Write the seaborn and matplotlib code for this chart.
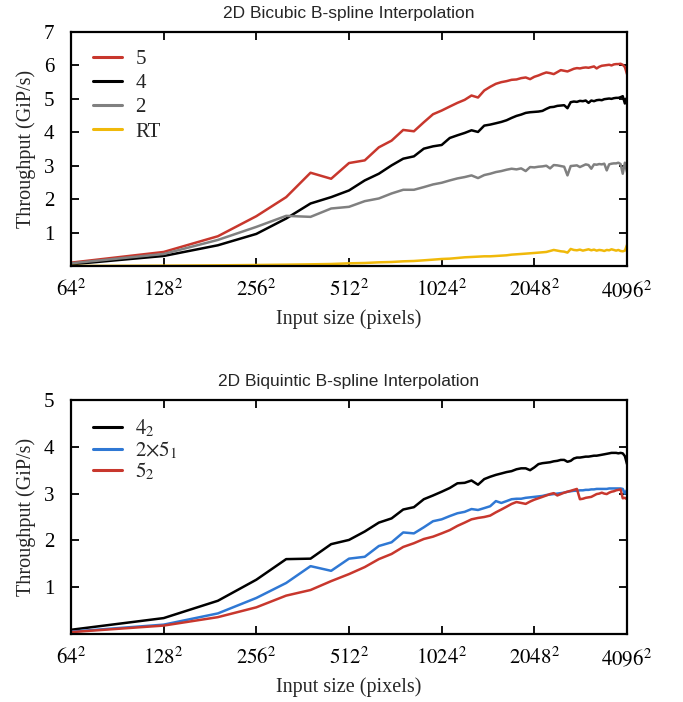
import matplotlib
matplotlib.use("Agg")
import matplotlib.pyplot as plt
import seaborn as sns
import pandas as pd
from matplotlib.ticker import NullLocator, FixedLocator

# ---------------- data ----------------
sizes = [64, 128, 192, 256, 320, 384, 448, 512, 576, 640, 704, 768, 832, 896, 960, 1024,
         1088, 1152, 1216, 1280, 1344, 1408, 1472, 1536, 1600, 1664, 1728, 1792, 1856, 1920, 1984, 2048,
         2112, 2176, 2240, 2304, 2368, 2432, 2496, 2560, 2624, 2688, 2752, 2816, 2880, 2944, 3008, 3072,
         3136, 3200, 3264, 3328, 3392, 3456, 3520, 3584, 3648, 3712, 3776, 3840, 3904, 3968, 4032, 4096]

cubic_5 = [0.10, 0.42, 0.89, 1.49, 2.06, 2.79, 2.61, 3.08, 3.16, 3.55, 3.75, 4.07, 4.03, 4.30, 4.54, 4.65,
           4.77, 4.88, 4.97, 5.10, 5.04, 5.25, 5.36, 5.45, 5.50, 5.53, 5.57, 5.58, 5.62, 5.64, 5.59, 5.66,
           5.70, 5.75, 5.79, 5.77, 5.74, 5.80, 5.86, 5.84, 5.82, 5.86, 5.90, 5.92, 5.91, 5.93, 5.94, 5.93,
           5.95, 5.97, 5.91, 5.96, 5.99, 6.00, 6.01, 6.02, 6.00, 6.03, 6.04, 6.04, 6.05, 6.02, 5.95, 5.74]
cubic_4 = [0.05, 0.30, 0.62, 0.96, 1.42, 1.87, 2.06, 2.26, 2.56, 2.76, 3.01, 3.21, 3.28, 3.51, 3.58, 3.62,
           3.83, 3.91, 3.98, 4.06, 4.01, 4.20, 4.23, 4.27, 4.31, 4.36, 4.43, 4.49, 4.53, 4.58, 4.60, 4.61,
           4.62, 4.64, 4.70, 4.75, 4.76, 4.79, 4.80, 4.81, 4.72, 4.90, 4.92, 4.91, 4.94, 4.93, 4.95, 4.88,
           4.95, 4.93, 4.96, 4.97, 4.96, 4.99, 5.00, 5.01, 5.00, 5.02, 5.03, 5.03, 5.05, 5.08, 4.86, 5.04]
cubic_2 = [0.08, 0.36, 0.78, 1.17, 1.50, 1.47, 1.72, 1.77, 1.94, 2.02, 2.17, 2.28, 2.28, 2.36, 2.44, 2.49,
           2.56, 2.62, 2.66, 2.71, 2.63, 2.72, 2.76, 2.81, 2.84, 2.88, 2.91, 2.89, 2.92, 2.84, 2.96, 2.95,
           2.97, 2.98, 3.00, 2.92, 3.02, 3.01, 2.99, 2.97, 2.71, 2.99, 3.00, 3.01, 2.96, 3.00, 3.04, 3.02,
           2.91, 3.04, 3.03, 3.05, 3.04, 3.06, 2.86, 3.04, 3.06, 3.07, 3.07, 3.09, 3.05, 2.76, 3.09, 2.81]
cubic_rt = [0.00, 0.01, 0.02, 0.03, 0.04, 0.05, 0.06, 0.08, 0.09, 0.11, 0.12, 0.14, 0.15, 0.17, 0.19, 0.21,
            0.22, 0.24, 0.26, 0.27, 0.28, 0.29, 0.29, 0.30, 0.31, 0.32, 0.34, 0.35, 0.36, 0.37, 0.38, 0.39,
            0.40, 0.41, 0.42, 0.45, 0.48, 0.46, 0.44, 0.43, 0.40, 0.51, 0.48, 0.47, 0.49, 0.46, 0.48, 0.50,
            0.47, 0.49, 0.46, 0.48, 0.47, 0.45, 0.48, 0.47, 0.50, 0.48, 0.46, 0.48, 0.45, 0.44, 0.46, 0.63]

quint_42 = [0.09, 0.34, 0.71, 1.16, 1.60, 1.61, 1.92, 2.01, 2.19, 2.38, 2.47, 2.66, 2.71, 2.88, 2.96, 3.04,
            3.12, 3.22, 3.23, 3.28, 3.19, 3.31, 3.36, 3.40, 3.43, 3.46, 3.48, 3.52, 3.54, 3.54, 3.50, 3.56,
            3.63, 3.65, 3.66, 3.67, 3.69, 3.70, 3.72, 3.72, 3.68, 3.70, 3.75, 3.77, 3.77, 3.78, 3.79, 3.79,
            3.80, 3.81, 3.81, 3.82, 3.83, 3.84, 3.85, 3.86, 3.87, 3.87, 3.87, 3.86, 3.87, 3.86, 3.80, 3.63]
quint_2x51 = [0.05, 0.20, 0.44, 0.77, 1.09, 1.45, 1.35, 1.61, 1.65, 1.88, 1.96, 2.17, 2.15, 2.28, 2.41, 2.45,
              2.52, 2.58, 2.61, 2.67, 2.65, 2.69, 2.73, 2.84, 2.80, 2.84, 2.88, 2.89, 2.89, 2.91, 2.92, 2.93,
              2.94, 2.95, 2.97, 2.98, 2.99, 3.00, 3.01, 3.02, 3.04, 3.05, 3.06, 3.06, 3.07, 3.07, 3.08, 3.08,
              3.09, 3.09, 3.10, 3.10, 3.10, 3.10, 3.10, 3.11, 3.11, 3.11, 3.11, 3.11, 3.11, 3.10, 3.00, 3.08]
quint_52 = [0.04, 0.18, 0.36, 0.57, 0.82, 0.94, 1.13, 1.28, 1.43, 1.60, 1.71, 1.86, 1.94, 2.03, 2.08, 2.15,
            2.22, 2.31, 2.38, 2.45, 2.48, 2.50, 2.53, 2.60, 2.66, 2.72, 2.78, 2.82, 2.80, 2.78, 2.83, 2.87,
            2.90, 2.93, 2.96, 2.99, 3.01, 2.96, 2.99, 3.02, 3.04, 3.06, 3.08, 3.10, 2.88, 2.89, 2.91, 2.92,
            2.93, 2.96, 2.99, 3.00, 3.02, 3.00, 2.99, 3.02, 3.04, 3.05, 3.07, 3.08, 3.09, 2.90, 2.91, 2.88]

top_labels = ["5", "4", "2", "RT"]
top_colors = ["#c8372d", "#000000", "#808080", "#f0b90a"]
bot_labels = [r"$4_2$", r"$2{\times}5_1$", r"$5_2$"]
bot_colors = ["#000000", "#2f78d4", "#c8372d"]
tick_sides = [64, 128, 256, 512, 1024, 2048, 4096]
tick_texts = [r"$64^2$", r"$128^2$", r"$256^2$", r"$512^2$", r"$1024^2$", r"$2048^2$", r"$4096^2$"]

# ---------------- style ----------------
sns.set_style("ticks")
plt.rcParams["font.family"] = ["Liberation Serif", "DejaVu Serif"]
plt.rcParams["mathtext.fontset"] = "stix"

fig = plt.figure(figsize=(6.83, 7.02), dpi=100)
ax1 = fig.add_axes([71 / 683, 1 - 266 / 702, 556 / 683, 234 / 702])
ax2 = fig.add_axes([71 / 683, 1 - 634 / 702, 556 / 683, 234 / 702])


def long_df(series, labels):
    rows = []
    for vals, lab in zip(series, labels):
        for s, v in zip(sizes, vals):
            rows.append({"size": s, "tp": v, "series": lab})
    return pd.DataFrame(rows)


def draw(ax, df, labels, colors, ymax, title, lspacing):
    sns.lineplot(data=df, x="size", y="tp", hue="series", hue_order=labels,
                 palette=colors, linewidth=1.8, ax=ax, legend=True, estimator=None)
    ax.set_xscale("log", base=2)
    ax.set_xlim(64, 4096)
    ax.set_ylim(0, ymax)
    ax.xaxis.set_major_locator(FixedLocator(tick_sides))
    ax.xaxis.set_minor_locator(NullLocator())
    ax.set_xticklabels(tick_texts)
    ax.set_yticks(list(range(1, ymax + 1)))
    ax.set_yticklabels([str(v) for v in range(1, ymax + 1)])
    ax.tick_params(direction="in", top=True, right=True, length=6, width=1.3,
                   labelsize=15, colors="black")
    ax.tick_params(axis="x", pad=10)
    ax.tick_params(axis="y", pad=12)
    for sp in ax.spines.values():
        sp.set_visible(True)
        sp.set_linewidth(1.6)
        sp.set_color("black")
    ax.set_xlabel("Input size (pixels)", fontsize=14.5, labelpad=5)
    ax.set_ylabel("Throughput (GiP/s)", fontsize=14.5, labelpad=6)
    ax.set_title(title, fontsize=12.5, family=["Liberation Sans", "DejaVu Sans"], pad=10)
    leg = ax.get_legend()
    handles = leg.legend_handles
    texts = [t.get_text() for t in leg.get_texts()]
    for h in handles:
        h.set_linewidth(2.2)
    ax.legend(handles, texts, loc="upper left", frameon=False, fontsize=15,
              handlelength=1.4, handletextpad=0.65, labelspacing=lspacing,
              borderaxespad=0.5, bbox_to_anchor=(0.005, 1.005))


draw(ax1, long_df([cubic_5, cubic_4, cubic_2, cubic_rt], top_labels), top_labels,
     top_colors, 7, "2D Bicubic B-spline Interpolation", 0.22)
draw(ax2, long_df([quint_42, quint_2x51, quint_52], bot_labels), bot_labels,
     bot_colors, 5, "2D Biquintic B-spline Interpolation", 0.0)

fig.savefig("out.png", dpi=100)
